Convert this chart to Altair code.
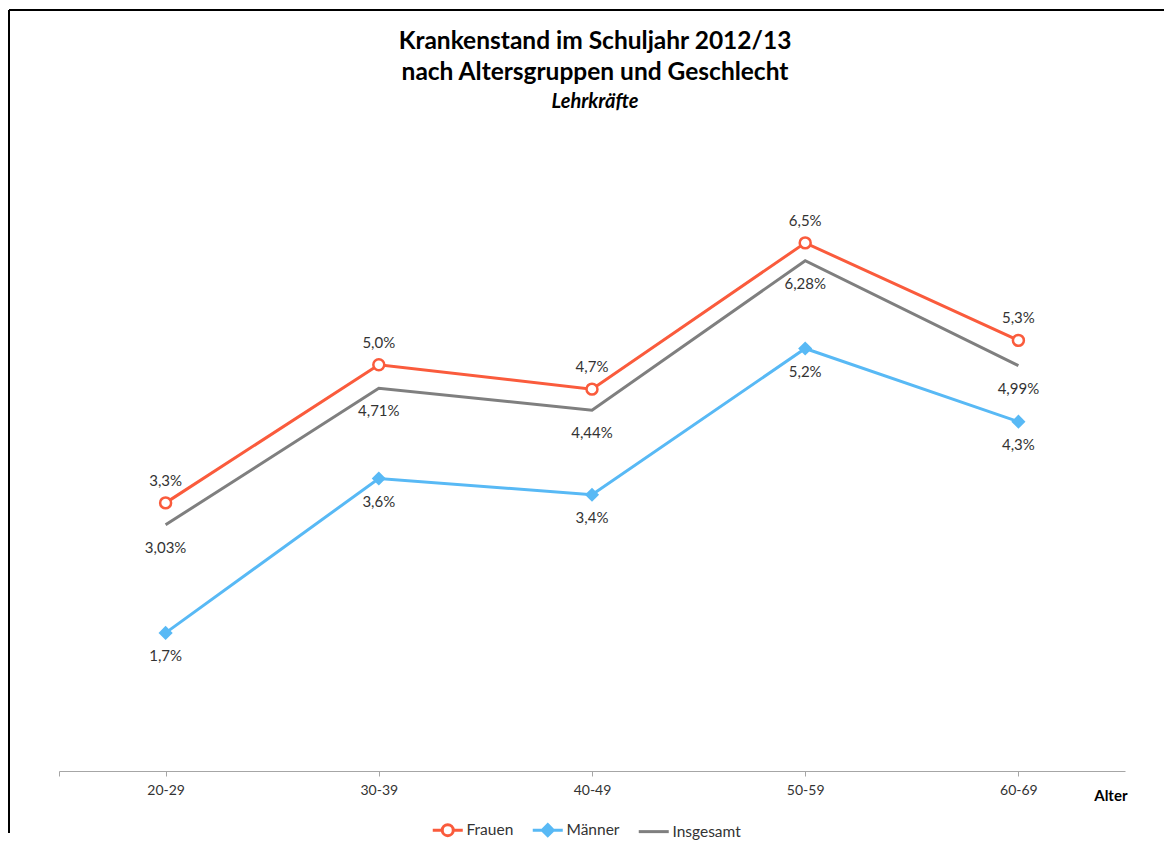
import altair as alt
import pandas as pd

# ---- data ----
age_groups = ["20-29", "30-39", "40-49", "50-59", "60-69"]
frauen = [3.3, 5.0, 4.7, 6.5, 5.3]
maenner = [1.7, 3.6, 3.4, 5.2, 4.3]
insgesamt = [3.03, 4.71, 4.44, 6.28, 4.99]
series_names = ["Frauen", "Männer", "Insgesamt"]
decimals = {"Frauen": 1, "Männer": 1, "Insgesamt": 2}
title_lines = ["Krankenstand im Schuljahr 2012/13", "nach Altersgruppen und Geschlecht"]
subtitle_text = "Lehrkräfte"

# ---- styles ----
colors = {"Frauen": "#FA5B3C", "Männer": "#58B9F5", "Insgesamt": "#7F7F7F"}
label_dy = {"Frauen": -22, "Männer": 23, "Insgesamt": 23}
FONT = "Lato"
TEXT_COLOR = "#333333"

rows = []
for name, vals in zip(series_names, [frauen, maenner, insgesamt]):
    for g, v in zip(age_groups, vals):
        rows.append({"Alter": g, "Serie": name, "Wert": v})
df = pd.DataFrame(rows)

stroke_scale = alt.Scale(domain=series_names, range=[colors[s] for s in series_names])
shape_paths = [
    "M-3,0H-1.1M1.1,0H3M1.1,0A1.1,1.1,0,1,1,-1.1,0A1.1,1.1,0,1,1,1.1,0",
    "M-3,0H3M0,-1.1L1.1,0L0,1.1L-1.1,0ZM0,-0.65L0.65,0L0,0.65L-0.65,0ZM0,-0.25L0.25,0L0,0.25L-0.25,0Z",
    "M-3,0H3",
]
legend_def = alt.Legend(
    title=None,
    orient="none",
    direction="horizontal",
    legendX=381,
    legendY=701,
    symbolSize=100,
    symbolStrokeWidth=3,
    symbolOpacity=1,
    labelOffset=11,
    columnPadding=12,
    labelFont=FONT,
    labelFontSize=15.5,
    labelColor=TEXT_COLOR,
)

x_enc = alt.X(
    "Alter:N",
    sort=age_groups,
    scale=alt.Scale(paddingInner=0, paddingOuter=0),
    axis=alt.Axis(
        title="Alter",
        labelAngle=0,
        bandPosition=0,
        tickExtra=True,
        tickSize=5,
        tickColor="#A6A6A6",
        domainColor="#A6A6A6",
        labelPadding=7,
        labelFont=FONT,
        labelFontSize=14,
        labelColor=TEXT_COLOR,
        titleFont=FONT,
        titleFontSize=15,
        titleFontWeight="bold",
        titleColor="#000000",
        titleAlign="right",
        titleAnchor="end",
        titleX=1068,
        titleY=29,
        titleBaseline="alphabetic",
    ),
)
y_enc = alt.Y("Wert:Q", scale=alt.Scale(domain=[0, 8]), axis=None)

base = alt.Chart(df)

lines = base.mark_line(strokeWidth=3).encode(
    x=x_enc,
    y=y_enc,
    stroke=alt.Stroke("Serie:N", scale=stroke_scale, legend=legend_def),
    detail="Serie:N",
)

pts_f = base.transform_filter(alt.datum.Serie == "Frauen").mark_point(
    shape="circle", size=120, filled=True, fill="white",
    stroke=colors["Frauen"], strokeWidth=2.5, opacity=1,
).encode(x=x_enc, y=y_enc)

pts_m = base.transform_filter(alt.datum.Serie == "Männer").mark_point(
    shape="diamond", size=200, filled=True, color=colors["Männer"], opacity=1,
).encode(x=x_enc, y=y_enc)

text_layers = []
for s in series_names:
    d = decimals[s]
    t = base.transform_filter(alt.datum.Serie == s).transform_calculate(
        lab=f"replace(format(datum.Wert, '.{d}f'), '.', ',') + '%'"
    ).mark_text(
        dy=label_dy[s], font=FONT, fontSize=15, color=TEXT_COLOR, baseline="middle"
    ).encode(x=x_enc, y=y_enc, text="lab:N")
    text_layers.append(t)

# legend carrier layer (draws nothing, only adds the marker shapes to the legend)
legend_layer = base.transform_filter("false").mark_point(strokeWidth=3, opacity=1).encode(
    x=x_enc,
    y=y_enc,
    stroke=alt.Stroke("Serie:N", scale=stroke_scale, legend=legend_def),
    shape=alt.Shape(
        "Serie:N",
        scale=alt.Scale(domain=series_names, range=shape_paths),
        legend=legend_def,
    ),
)

one = pd.DataFrame({"a": [0]})

# chart title drawn as text (so that the decorative frame can sit above it)
title1 = alt.Chart(one).mark_text(
    text=title_lines[0], font=FONT, fontSize=24.5, fontWeight="bold",
    color="black", baseline="middle", align="center",
).encode(x=alt.value(536), y=alt.value(-79))
title2 = alt.Chart(one).mark_text(
    text=title_lines[1], font=FONT, fontSize=24.5, fontWeight="bold",
    color="black", baseline="middle", align="center",
).encode(x=alt.value(536), y=alt.value(-48))
subtitle = alt.Chart(one).mark_text(
    text=subtitle_text, font=FONT, fontSize=20, fontWeight="bold", fontStyle="italic",
    color="black", baseline="middle", align="center",
).encode(x=alt.value(536), y=alt.value(-19))

# decorative outer frame (left and top edge, as in the cropped reference)
frame_left = alt.Chart(one).mark_rule(color="black", strokeWidth=2).encode(
    x=alt.value(-50), y=alt.value(-111), y2=alt.value(712)
)
frame_top = alt.Chart(one).mark_rule(color="black", strokeWidth=2).encode(
    x=alt.value(-50), x2=alt.value(1105), y=alt.value(-111)
)

chart = alt.layer(
    frame_left, frame_top, title1, title2, subtitle,
    lines, pts_f, pts_m, *text_layers, legend_layer
).properties(
    width=1066,
    height=650,
    padding={"left": 0, "top": 1, "right": 0, "bottom": 0},
).configure_view(stroke=None)

chart.save("out.html", embed_options={"renderer": "svg", "actions": False})
